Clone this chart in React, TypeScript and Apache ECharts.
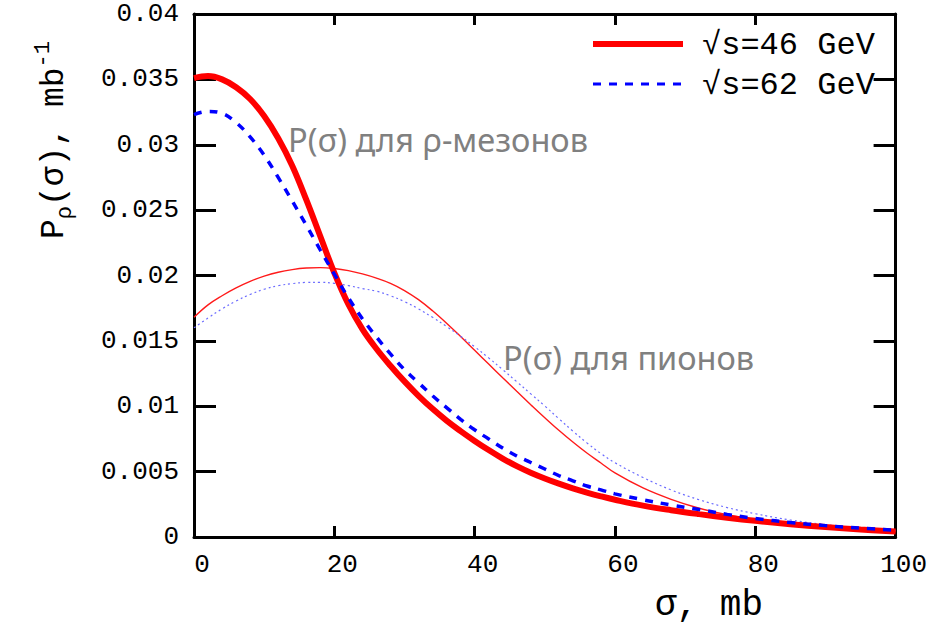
import React, { useEffect, useRef } from 'react';
import * as echarts from 'echarts';

// σ, mb
const SIGMA = [0, 2, 4, 6, 8, 10, 12, 14, 16, 18, 20, 22, 24, 26, 28, 30, 32, 34, 36, 38, 40, 42, 44, 46, 48, 50, 52, 54, 56, 58, 60, 64, 68, 72, 76, 80, 85, 90, 95, 100];

// P_rho(σ) for ρ-mesons, √s = 46 GeV (thick red)
const RHO_46 = [0.0351, 0.03525, 0.035, 0.0344, 0.0335, 0.0322, 0.0305, 0.0284, 0.0258, 0.023, 0.0202, 0.0178, 0.0159, 0.0144, 0.0131, 0.0119, 0.0108, 0.0098, 0.0089, 0.0081, 0.00735, 0.00665, 0.006, 0.00542, 0.00492, 0.00448, 0.00408, 0.00372, 0.0034, 0.00311, 0.00285, 0.0024, 0.00205, 0.00175, 0.00148, 0.00124, 0.00098, 0.00076, 0.00057, 0.00042];

// P_rho(σ) for ρ-mesons, √s = 62 GeV (blue dashed)
const RHO_62 = [0.0323, 0.03255, 0.0324, 0.0317, 0.0306, 0.0292, 0.0275, 0.0257, 0.02385, 0.02195, 0.0201, 0.0183, 0.0167, 0.0153, 0.014, 0.0128, 0.0118, 0.0108, 0.0099, 0.009, 0.0082, 0.0075, 0.0068, 0.0062, 0.0057, 0.0052, 0.0047, 0.0043, 0.0039, 0.0036, 0.0033, 0.00285, 0.00245, 0.0021, 0.00173, 0.00142, 0.00111, 0.00087, 0.00068, 0.00052];

// P(σ) for pions, √s = 46 GeV (thin red)
const PION_46 = [0.0168, 0.01775, 0.01845, 0.01905, 0.01955, 0.01995, 0.02025, 0.02045, 0.02057, 0.0206, 0.02053, 0.02037, 0.02012, 0.0198, 0.0194, 0.01885, 0.01815, 0.0173, 0.01635, 0.01533, 0.01428, 0.01323, 0.01218, 0.01114, 0.01012, 0.00912, 0.00816, 0.00726, 0.00642, 0.00566, 0.0049, 0.00375, 0.00288, 0.0022, 0.0017, 0.00135, 0.001, 0.00073, 0.00053, 0.0004];

// P(σ) for pions, √s = 62 GeV (thin blue dotted)
const PION_62 = [0.016, 0.01675, 0.01745, 0.01805, 0.01855, 0.01895, 0.01922, 0.01938, 0.01947, 0.01948, 0.0194, 0.01923, 0.019, 0.0188, 0.01845, 0.018, 0.01745, 0.0168, 0.0161, 0.01535, 0.01455, 0.0137, 0.0128, 0.01188, 0.01095, 0.01002, 0.00905, 0.0081, 0.0072, 0.00638, 0.00568, 0.00455, 0.0036, 0.00285, 0.00225, 0.00178, 0.0013, 0.00095, 0.0007, 0.0005];

const X_MIN = 0;
const X_MAX = 100;
const X_STEP = 20;
const Y_MIN = 0;
const Y_MAX = 0.04;
const Y_STEP = 0.005;

const LEGEND_46 = '√s=46 GeV';
const LEGEND_62 = '√s=62 GeV';
const NOTE_RHO = 'P(σ) для ρ-мезонов';
const NOTE_PION = 'P(σ) для пионов';
const X_NAME = 'σ, mb';

const MONO = '"Liberation Mono", "DejaVu Sans Mono", monospace';
const SANS = '"Noto Sans", "Open Sans", sans-serif';

const pairs = (ys: number[]) => SIGMA.map((x, i) => [x, ys[i]]);

export default function App() {
  const ref = useRef<HTMLDivElement>(null);

  useEffect(() => {
    if (!ref.current) return;
    const chart = echarts.init(ref.current, null, { renderer: 'svg' });

    const axisLine = { show: true, onZero: false, lineStyle: { color: '#000', width: 3 } };
    const fmtY = (v: number) => String(parseFloat(v.toFixed(3)));

    chart.setOption({
      animation: false,
      backgroundColor: '#fff',
      grid: { left: 194, right: 34, top: 14, bottom: 88, containLabel: false },
      xAxis: [
        {
          type: 'value', min: X_MIN, max: X_MAX, interval: X_STEP, position: 'bottom',
          axisLine,
          axisTick: { show: true, inside: true, length: 11, lineStyle: { color: '#000', width: 3 } },
          axisLabel: { color: '#000', fontFamily: MONO, fontSize: 26, margin: 15, padding: [0, 0, 0, 16] },
          splitLine: { show: false },
        },
        {
          type: 'value', min: X_MIN, max: X_MAX, interval: X_STEP, position: 'top',
          axisLine,
          axisTick: { show: true, inside: true, length: 11, lineStyle: { color: '#000', width: 3 } },
          axisLabel: { show: false },
          splitLine: { show: false },
        },
      ],
      yAxis: [
        {
          type: 'value', min: Y_MIN, max: Y_MAX, interval: Y_STEP, position: 'left',
          axisLine,
          axisTick: { show: true, inside: true, length: 22, lineStyle: { color: '#000', width: 3 } },
          axisLabel: { color: '#000', fontFamily: MONO, fontSize: 26, margin: 15, formatter: fmtY },
          splitLine: { show: false },
        },
        {
          type: 'value', min: Y_MIN, max: Y_MAX, interval: Y_STEP, position: 'right',
          axisLine,
          axisTick: { show: true, inside: true, length: 22, lineStyle: { color: '#000', width: 3 } },
          axisLabel: { show: false },
          splitLine: { show: false },
        },
      ],
      series: [
        {
          name: 'π 46', type: 'line', data: pairs(PION_46), smooth: 0.4, symbol: 'none',
          lineStyle: { color: '#ff1a1a', width: 1.4 }, z: 2,
        },
        {
          name: 'π 62', type: 'line', data: pairs(PION_62), smooth: 0.4, symbol: 'none',
          lineStyle: { color: '#6b6bff', width: 1.2, type: [2, 3] }, z: 3,
        },
        {
          name: LEGEND_46, type: 'line', data: pairs(RHO_46), smooth: 0.4, symbol: 'none',
          lineStyle: { color: '#ff0000', width: 6 }, z: 4,
        },
        {
          name: LEGEND_62, type: 'line', data: pairs(RHO_62), smooth: 0.4, symbol: 'none',
          lineStyle: { color: '#0000ff', width: 3.5, type: [8, 8] }, z: 5,
        },
      ],
      graphic: [
        { type: 'line', shape: { x1: 593, y1: 44, x2: 683, y2: 44 }, style: { stroke: '#ff0000', lineWidth: 6 }, z: 10 },
        { type: 'text', x: 702, y: 45, style: { text: LEGEND_46, fontFamily: MONO, fontSize: 32, fill: '#000', verticalAlign: 'middle', align: 'left' }, z: 10 },
        { type: 'line', shape: { x1: 593, y1: 84, x2: 683, y2: 84 }, style: { stroke: '#0000ff', lineWidth: 3, lineDash: [8, 8] }, z: 10 },
        { type: 'text', x: 702, y: 85, style: { text: LEGEND_62, fontFamily: MONO, fontSize: 32, fill: '#000', verticalAlign: 'middle', align: 'left' }, z: 10 },
        { type: 'text', x: 288, y: 139, style: { text: NOTE_RHO, fontFamily: SANS, fontSize: 32.5, fill: '#808080', verticalAlign: 'middle', align: 'left' }, z: 10 },
        { type: 'text', x: 503, y: 357, style: { text: NOTE_PION, fontFamily: SANS, fontSize: 32.5, fill: '#808080', verticalAlign: 'middle', align: 'left' }, z: 10 },
        { type: 'text', x: 709, y: 605, style: { text: X_NAME, fontFamily: MONO, fontSize: 36, fill: '#000', verticalAlign: 'middle', align: 'center' }, z: 10 },
        {
          type: 'text', x: 54, y: 140, rotation: Math.PI / 2, z: 10,
          style: {
            text: '{a|P}{s|ρ}{a|(σ), mb}{p|-1}',
            fontFamily: MONO, fill: '#000', align: 'center', verticalAlign: 'middle',
            rich: {
              a: { fontFamily: MONO, fontSize: 33, lineHeight: 44, fill: '#000', verticalAlign: 'middle' },
              s: { fontFamily: MONO, fontSize: 22, lineHeight: 24, fill: '#000', verticalAlign: 'bottom' },
              p: { fontFamily: MONO, fontSize: 22, lineHeight: 24, fill: '#000', verticalAlign: 'top' },
            },
          },
        },
      ],
    });

    return () => chart.dispose();
  }, []);

  return (
    <div
      ref={ref}
      style={{ position: 'absolute', left: 0, top: 0, width: 930, height: 625, background: '#fff' }}
    />
  );
}
